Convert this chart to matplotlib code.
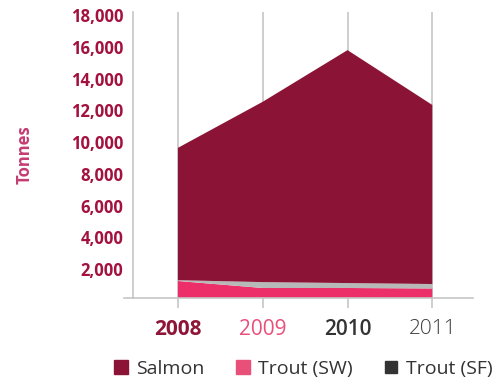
import numpy as np
import matplotlib
matplotlib.use('Agg')
import matplotlib.pyplot as plt
import matplotlib.transforms as mtransforms
from matplotlib.lines import Line2D

# Production by species, tonnes
years = [2008, 2009, 2010, 2011]
troutSW = [1070, 630, 630, 600]
troutSF = [50, 370, 310, 280]
salmon = [8330, 11350, 14660, 11270]

yTicks = [2000, 4000, 6000, 8000, 10000, 12000, 14000, 16000, 18000]
yearColors = ['#8e1538', '#e8507a', '#333333', '#3c3c3c']
yearWeights = ['bold', 'normal', 'semibold', 'light']

salmonColor = '#8b1436'
troutSWColor = '#ec2f68'
troutSFColor = '#b7b9b9'
gridColor = '#c6c6c6'
labelColor = '#a3123e'

plt.rcParams['font.family'] = ['Open Sans', 'DejaVu Sans']

fig = plt.figure(figsize=(5.04, 3.85), dpi=100)
ax = fig.add_axes([133 / 504, 87 / 385, 340 / 504, 286 / 385])

# Stacked area: Trout (SW) at bottom, Trout (SF), then Salmon
ax.stackplot(years, troutSW, troutSF, salmon,
             colors=[troutSWColor, troutSFColor, salmonColor],
             linewidth=0, zorder=3)

ax.set_xlim(2007.47, 2011.48)
ax.set_ylim(0, 18000)

# Vertical grid lines at each year
for yr in years:
    ax.axvline(yr, color=gridColor, linewidth=1.2, zorder=1)

for side in ['top', 'right']:
    ax.spines[side].set_visible(False)
ax.spines['left'].set_color(gridColor)
ax.spines['left'].set_linewidth(1.2)
ax.spines['bottom'].set_color(gridColor)
ax.spines['bottom'].set_linewidth(1.2)
ax.spines['bottom'].set_zorder(4)

# Baseline runs a little past the y axis on the left
ax.plot([-0.027, 0], [0, 0], transform=ax.transAxes, color=gridColor,
        linewidth=1.2, clip_on=False)

ax.set_yticks(yTicks)
ax.set_yticklabels([f'{v:,}' for v in yTicks])
ax.tick_params(axis='y', length=0, pad=7, labelsize=12, labelcolor=labelColor)
for lbl in ax.get_yticklabels():
    lbl.set_fontweight('bold')
    lbl.set_transform(lbl.get_transform() +
                      mtransforms.ScaledTranslation(0, -3 / 100, fig.dpi_scale_trans))

ax.set_xticks(years)
ax.set_xticklabels([str(y) for y in years])
ax.tick_params(axis='x', length=7, width=1.2, color=gridColor, pad=8, labelsize=15)
for lbl, c, w in zip(ax.get_xticklabels(), yearColors, yearWeights):
    lbl.set_color(c)
    lbl.set_fontweight(w)

fig.text(25 / 504, 1 - 155 / 385, 'Tonnes', rotation=90, ha='center', va='center',
         fontsize=12, fontweight='bold', color='#c43d72')

handles = [
    Line2D([0], [0], marker='s', linestyle='', markersize=10, color=salmonColor),
    Line2D([0], [0], marker='s', linestyle='', markersize=10, color='#e8507a'),
    Line2D([0], [0], marker='s', linestyle='', markersize=9, color='#333333'),
]
fig.legend(handles, ['Salmon', 'Trout (SW)', 'Trout (SF)'], ncol=3,
           loc='center', bbox_to_anchor=(302 / 504, 1 - 369 / 385),
           frameon=False, fontsize=14, labelcolor='#333333',
           handletextpad=0.25, columnspacing=1.5, handlelength=1.0)

fig.savefig('out.png', dpi=100)
